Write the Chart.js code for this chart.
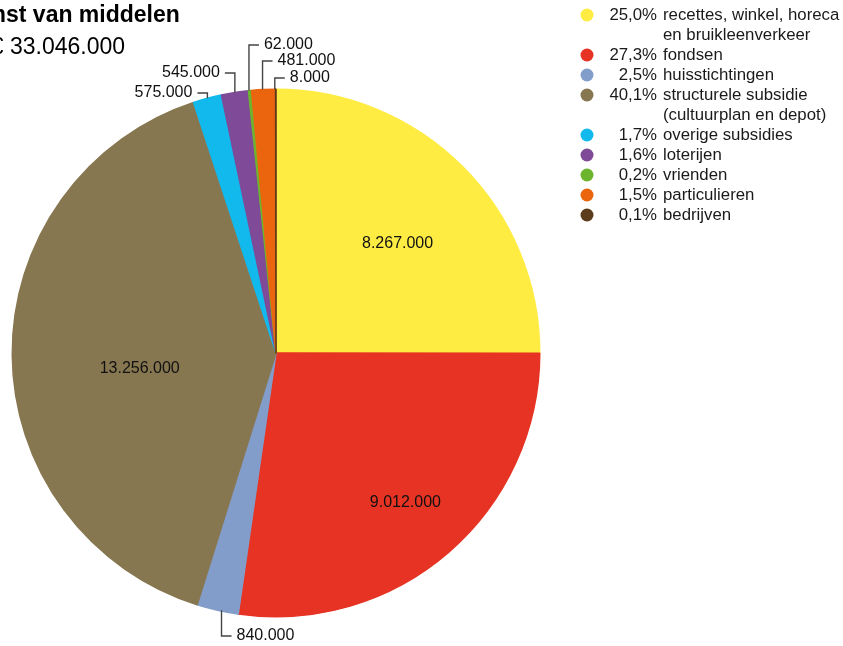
<!DOCTYPE html>
<html>
<head>
<meta charset="utf-8">
<script src="https://cdn.jsdelivr.net/npm/chart.js@4"></script>
<style>
  html, body { margin: 0; padding: 0; background: #fff; }
  #wrap { position: relative; width: 843px; height: 646px; }
</style>
</head>
<body>
<div id="wrap"><canvas id="chart" width="843" height="646"></canvas></div>
<script>
'use strict';

/* ---- data ---- */
const title = 'Herkomst van middelen';
const totalLabel = '€ 33.046.000';
const categories = [
  ['recettes, winkel, horeca', 'en bruikleenverkeer'],
  ['fondsen'],
  ['huisstichtingen'],
  ['structurele subsidie', '(cultuurplan en depot)'],
  ['overige subsidies'],
  ['loterijen'],
  ['vrienden'],
  ['particulieren'],
  ['bedrijven']
];
const values = [8267000, 9012000, 840000, 13256000, 575000, 545000, 62000, 481000, 8000];
const percentages = ['25,0%', '27,3%', '2,5%', '40,1%', '1,7%', '1,6%', '0,2%', '1,5%', '0,1%'];
const colors = ['#feec43', '#e63323', '#839dca', '#877751', '#12b9ec', '#7f4a98', '#6db52e', '#eb650f', '#5b3c1c'];

const FONT = '"Liberation Sans", Arial, sans-serif';
const fmt = v => String(v).replace(/\B(?=(\d{3})+(?!\d))/g, '.');

/* ---- label plugin: inside values, leader lines, legend, heading ---- */
const pieLabels = {
  id: 'pieLabels',
  afterDatasetsDraw(chart, args, opts) {
    const ctx = chart.ctx;
    const meta = chart.getDatasetMeta(0);
    ctx.save();
    ctx.fillStyle = '#111';
    ctx.font = '16px ' + FONT;
    ctx.textBaseline = 'middle';

    meta.data.forEach((arc, i) => {
      const { x, y, startAngle, endAngle, outerRadius } = arc.getProps(['x', 'y', 'startAngle', 'endAngle', 'outerRadius'], true);
      const mid = (startAngle + endAngle) / 2;
      const inside = opts.inside[i];
      const outside = opts.outside[i];
      if (inside) {
        const a = mid + inside.da * Math.PI / 180;
        const r = outerRadius * inside.r;
        ctx.textAlign = 'center';
        ctx.fillText(fmt(values[i]), x + Math.cos(a) * r, y + Math.sin(a) * r);
      } else if (outside) {
        const px = x + Math.cos(mid) * outerRadius + outside.dx;
        const py = y + Math.sin(mid) * outerRadius;
        const hx = px + outside.side * 10;
        ctx.strokeStyle = '#444';
        ctx.lineWidth = 1.4;
        ctx.beginPath();
        ctx.moveTo(px, py);
        ctx.lineTo(px, outside.y);
        ctx.lineTo(hx, outside.y);
        ctx.stroke();
        ctx.textAlign = outside.side > 0 ? 'left' : 'right';
        ctx.fillText(fmt(values[i]), hx + outside.side * 5, outside.y);
      }
    });

    // legend
    let row = 0;
    ctx.font = '16.8px ' + FONT;
    categories.forEach((lines, i) => {
      const ly = 15 + row * 20;
      ctx.fillStyle = colors[i];
      ctx.beginPath();
      ctx.arc(587, ly, 6.5, 0, Math.PI * 2);
      ctx.fill();
      ctx.fillStyle = '#1a1a1a';
      ctx.textAlign = 'right';
      ctx.fillText(percentages[i], 657, ly);
      ctx.textAlign = 'left';
      lines.forEach((t, k) => ctx.fillText(t, 663, ly + k * 20));
      row += lines.length;
    });

    // heading, cut off at the left edge like the source
    ctx.fillStyle = '#000';
    ctx.textBaseline = 'alphabetic';
    ctx.textAlign = 'left';
    ctx.font = 'bold 23px ' + FONT;
    ctx.fillText(title, 6 - ctx.measureText('Herkom').width, 22);
    ctx.font = '23px ' + FONT;
    ctx.fillText(totalLabel, 10 - ctx.measureText('€ ').width, 54);
    ctx.restore();
  }
};

new Chart(document.getElementById('chart'), {
  type: 'pie',
  data: {
    labels: categories.map(c => c.join(' ')),
    datasets: [{
      data: values,
      backgroundColor: colors,
      borderColor: colors,
      borderWidth: 1.5,
      borderJoinStyle: 'round'
    }]
  },
  options: {
    responsive: false,
    animation: false,
    layout: { padding: { left: 11.5, right: 302.5, top: 88.5, bottom: 28.5 } },
    plugins: {
      legend: { display: false },
      tooltip: { enabled: false },
      pieLabels: {
        inside: { 0: { r: 0.62, da: 3 }, 1: { r: 0.75, da: 0 }, 3: { r: 0.52, da: -6 } },
        outside: {
          2: { y: 636, side: 1, dx: 4 },
          4: { y: 93, side: -1, dx: 0 },
          5: { y: 73, side: -1, dx: 0 },
          6: { y: 45, side: 1, dx: -1 },
          7: { y: 61, side: 1, dx: -1 },
          8: { y: 78, side: 1, dx: -1 }
        }
      }
    }
  },
  plugins: [pieLabels]
});
</script>
</body>
</html>
